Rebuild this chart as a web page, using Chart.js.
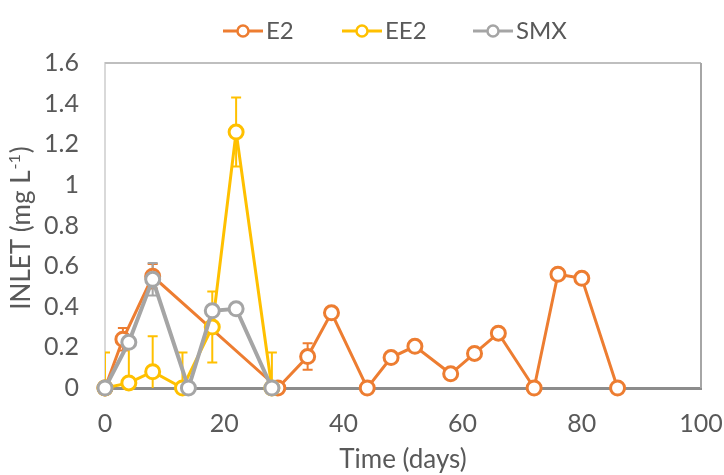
<!DOCTYPE html>
<html>
<head>
<meta charset="utf-8">
<script src="https://cdn.jsdelivr.net/npm/chart.js@4/dist/chart.umd.min.js"></script>
<style>
  html, body { margin: 0; padding: 0; background: #ffffff; }
  #chart { display: block; }
</style>
</head>
<body>
<canvas id="chart" width="724" height="475"></canvas>
<script>
// Sampling days and inlet concentrations (mg L-1) with their standard deviations
const e2Days   = [0, 3, 8, 29, 34, 38, 44, 48, 52, 58, 62, 66, 72, 76, 80, 86];
const e2Values = [0, 0.24, 0.55, 0, 0.155, 0.37, 0, 0.15, 0.205, 0.07, 0.17, 0.27, 0, 0.56, 0.54, 0];
const e2Err    = [0, 0.055, 0.06, 0, 0.065, 0, 0, 0, 0, 0, 0, 0, 0, 0, 0, 0];

const ee2Days   = [0, 4, 8, 13, 18, 22, 28];
const ee2Values = [0, 0.025, 0.08, 0, 0.3, 1.26, 0];
const ee2Err    = [0.175, 0.175, 0.175, 0.175, 0.175, 0.17, 0.175];

const smxDays   = [0, 4, 8, 14, 18, 22, 28];
const smxValues = [0, 0.225, 0.535, 0, 0.38, 0.39, 0];
const smxErr    = [0, 0, 0.08, 0, 0, 0, 0];

const xTicks = [0, 20, 40, 60, 80, 100];
const yTicks = [0, 0.2, 0.4, 0.6, 0.8, 1, 1.2, 1.4, 1.6];

const FONT = 'Lato, "Open Sans", sans-serif';
const TEXT = '#595959';
const FS = 25;
const TITLE_FS = 26;
const LEG_FS = 24;

function pts(days, vals) {
  return days.map((d, i) => ({ x: d, y: vals[i] }));
}

function series(label, days, vals, errs, color, width, order) {
  return {
    label: label,
    data: pts(days, vals),
    errors: errs,
    showLine: true,
    clip: false,
    borderColor: color,
    backgroundColor: color,
    borderWidth: width,
    pointRadius: 7,
    pointHoverRadius: 7,
    pointBorderWidth: 3,
    pointBorderColor: color,
    pointBackgroundColor: '#ffffff',
    tension: 0,
    order: order
  };
}

// Error bars, plot frame, y title and legend
const decorations = {
  id: 'decorations',
  beforeDatasetsDraw(chart) {
    const ctx = chart.ctx;
    const a = chart.chartArea;
    const ys = chart.scales.y;
    ctx.save();
    // frame: top and right edges
    ctx.lineWidth = 2;
    ctx.strokeStyle = '#BFBFBF';
    ctx.beginPath();
    ctx.moveTo(a.left, a.top);
    ctx.lineTo(a.right, a.top);
    ctx.stroke();
    ctx.strokeStyle = '#A6A6A6';
    ctx.beginPath();
    ctx.moveTo(a.right, a.top);
    ctx.lineTo(a.right, a.bottom);
    ctx.stroke();

    // error bars under the lines
    ctx.beginPath();
    ctx.rect(a.left, a.top - 2, a.right - a.left, a.bottom - a.top + 2);
    ctx.clip();
    chart.data.datasets.forEach((ds, di) => {
      const meta = chart.getDatasetMeta(di);
      ctx.strokeStyle = ds.borderColor;
      ctx.lineWidth = 2;
      ds.data.forEach((p, i) => {
        const e = ds.errors[i];
        if (!e) return;
        const x = meta.data[i].x;
        const yt = ys.getPixelForValue(p.y + e);
        const yb = ys.getPixelForValue(p.y - e);
        ctx.beginPath();
        ctx.moveTo(x, yt); ctx.lineTo(x, yb);
        ctx.moveTo(x - 5, yt); ctx.lineTo(x + 5, yt);
        ctx.moveTo(x - 5, yb); ctx.lineTo(x + 5, yb);
        ctx.stroke();
      });
    });
    ctx.restore();
  },
  afterDraw(chart) {
    const ctx = chart.ctx;
    const a = chart.chartArea;
    ctx.save();
    ctx.fillStyle = TEXT;

    // y axis title with superscript
    ctx.translate(22, 229);
    ctx.rotate(-Math.PI / 2);
    ctx.textBaseline = 'middle';
    ctx.textAlign = 'left';
    const main = 'INLET (mg L';
    const sup = '-1';
    const close = ')';
    const supFs = Math.round(TITLE_FS * 0.62);
    ctx.font = TITLE_FS + 'px ' + FONT;
    const w1 = ctx.measureText(main).width;
    const w3 = ctx.measureText(close).width;
    ctx.font = supFs + 'px ' + FONT;
    const w2 = ctx.measureText(sup).width;
    const start = -(w1 + w2 + w3) / 2;
    ctx.font = TITLE_FS + 'px ' + FONT;
    ctx.fillText(main, start, 0);
    ctx.font = supFs + 'px ' + FONT;
    ctx.fillText(sup, start + w1 + 1, -7);
    ctx.font = TITLE_FS + 'px ' + FONT;
    ctx.fillText(close, start + w1 + w2 + 2, 0);
    ctx.restore();

    // legend: line with open marker, then label
    ctx.save();
    const starts = [223, 342, 473];
    const ly = 31;
    chart.data.datasets.forEach((ds, i) => {
      const x0 = starts[i];
      ctx.strokeStyle = ds.borderColor;
      ctx.lineWidth = 3;
      ctx.beginPath();
      ctx.moveTo(x0, ly); ctx.lineTo(x0 + 40, ly);
      ctx.stroke();
      ctx.beginPath();
      ctx.arc(x0 + 20, ly, 5.5, 0, Math.PI * 2);
      ctx.fillStyle = '#ffffff';
      ctx.fill();
      ctx.lineWidth = 2.5;
      ctx.stroke();
      ctx.fillStyle = TEXT;
      ctx.font = LEG_FS + 'px ' + FONT;
      ctx.textBaseline = 'middle';
      ctx.textAlign = 'left';
      ctx.fillText(ds.label, x0 + 43, ly);
    });
    ctx.restore();
  }
};

new Chart(document.getElementById('chart'), {
  type: 'scatter',
  data: {
    datasets: [
      series('E2', e2Days, e2Values, e2Err, '#ED7D31', 3, 2),
      series('EE2', ee2Days, ee2Values, ee2Err, '#FFC000', 3, 1),
      series('SMX', smxDays, smxValues, smxErr, '#A5A5A5', 4, 0)
    ]
  },
  options: {
    responsive: false,
    devicePixelRatio: 1,
    animation: false,
    layout: { padding: { left: 0, right: 23, top: 63, bottom: 0 } },
    plugins: {
      legend: { display: false },
      tooltip: { enabled: false }
    },
    scales: {
      x: {
        type: 'linear',
        min: 0,
        max: 100,
        afterBuildTicks(s) { s.ticks = xTicks.map(v => ({ value: v })); },
        afterFit(s) { s.height = 87; s.paddingRight = 0; s.paddingLeft = 0; },
        grid: { display: false, drawTicks: false },
        border: { display: true, color: '#8C8C8C', width: 3 },
        ticks: {
          padding: 21,
          color: TEXT,
          font: { family: FONT, size: FS },
          maxRotation: 0
        },
        title: {
          display: true,
          text: 'Time (days)',
          color: TEXT,
          font: { family: FONT, size: TITLE_FS },
          padding: { top: 0, bottom: 0 }
        }
      },
      y: {
        type: 'linear',
        min: 0,
        max: 1.6,
        afterBuildTicks(s) { s.ticks = yTicks.map(v => ({ value: v })); },
        afterFit(s) { s.width = 105; },
        grid: { display: false, drawTicks: false },
        border: { display: true, color: '#D9D9D9', width: 2 },
        ticks: {
          padding: 26,
          color: TEXT,
          font: { family: FONT, size: FS },
          callback: v => String(Number(v.toFixed(1)))
        }
      }
    }
  },
  plugins: [decorations]
});
</script>
</body>
</html>
